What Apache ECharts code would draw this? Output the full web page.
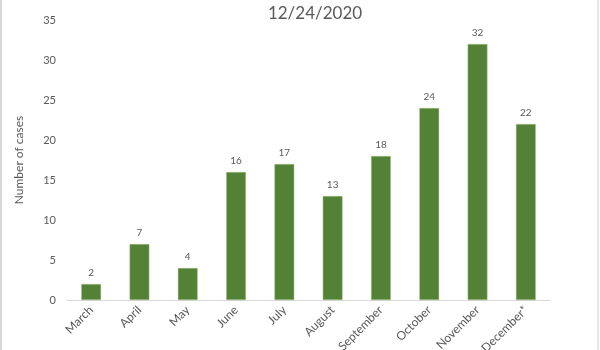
<!DOCTYPE html>
<html><head><meta charset="utf-8">
<script src="https://cdn.jsdelivr.net/npm/echarts@6/dist/echarts.min.js"></script>
<style>html,body{margin:0;padding:0;background:#fff}#c{width:600px;height:350px}</style>
</head><body><div id="c"></div>
<script>
const months = ['March','April','May','June','July','August','September','October','November','December*'];
const cases = [2,7,4,16,17,13,18,24,32,22];
const yTicks = [0,5,10,15,20,25,30,35];
const titleText = '12/24/2020';
const yName = 'Number of cases';

const chart = echarts.init(document.getElementById('c'));
chart.setOption({
  animation: false,
  title: {text: titleText, left: 310, top: 0, textAlign: 'center',
    textStyle: {fontFamily: 'Lato', fontSize: 17, fontWeight: 'normal', color: '#595959'}},
  grid: {left: 67, right: 50, top: 20, bottom: 50, outerBoundsMode: 'none', containLabel: false},
  xAxis: {type: 'category', data: months,
    axisLine: {lineStyle: {color: '#d9d9d9', width: 1}},
    axisTick: {show: false},
    axisLabel: {rotate: 45, interval: 0, color: '#595959', fontFamily: 'Lato', fontSize: 12, margin: 8}},
  yAxis: {type: 'value', min: yTicks[0], max: yTicks[yTicks.length-1], interval: 5,
    name: yName, nameLocation: 'middle', nameGap: 42, nameRotate: 90,
    nameTextStyle: {color: '#595959', fontFamily: 'Lato', fontSize: 12},
    axisLine: {show: false}, axisTick: {show: false}, splitLine: {show: false},
    axisLabel: {color: '#595959', fontFamily: 'Lato', fontSize: 11, margin: 11}},
  series: [{type: 'bar', data: cases, barWidth: '41%',
    itemStyle: {color: '#538135', borderColor: '#a9c58f', borderWidth: 0.5},
    label: {show: true, position: 'top', distance: 6, color: '#595959', fontFamily: 'Lato', fontSize: 10}}],
  graphic: [
    {type: 'rect', shape: {x: 0, y: 0, width: 2, height: 350}, style: {fill: '#d9d9d9'}, silent: true},
    {type: 'rect', shape: {x: 597, y: 0, width: 2, height: 350}, style: {fill: '#e6e6e6'}, silent: true}
  ]
});
</script></body></html>
